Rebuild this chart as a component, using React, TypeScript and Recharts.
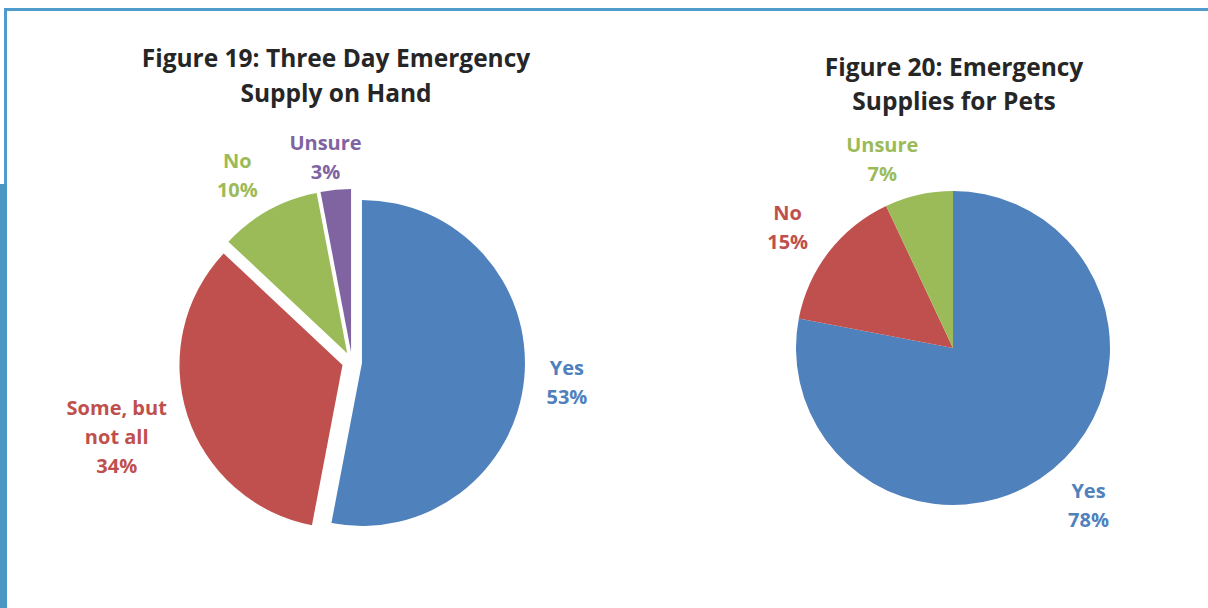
import React from 'react';
import { PieChart, Pie, Cell } from 'recharts';

// ---------- Data ----------
const fig19Title = ['Figure 19: Three Day Emergency', 'Supply on Hand'];
const fig19Categories = ['Yes', 'Some, but not all', 'No', 'Unsure'];
const fig19LabelLines = [['Yes'], ['Some, but', 'not all'], ['No'], ['Unsure']];
const fig19Values = [53, 34, 10, 3];

const fig20Title = ['Figure 20: Emergency', 'Supplies for Pets'];
const fig20Categories = ['Yes', 'No', 'Unsure'];
const fig20LabelLines = [['Yes'], ['No'], ['Unsure']];
const fig20Values = [78, 15, 7];

// ---------- Styles ----------
const fig19Colors = ['#4F81BD', '#C0504D', '#9BBB59', '#8064A2'];
const fig20Colors = ['#4F81BD', '#C0504D', '#9BBB59'];
const fig19Nudges = [[8, 0], [1, -2], [-9, 5], [-6, 12]];
const fig20Nudges = [[6, 0], [-6, 3], [-26, 11]];

const FONT = '"Open Sans", "Noto Sans", sans-serif';
const LABEL_SIZE = 20;
const LINE_GAP = 29;
const RAD = Math.PI / 180;

const fig19Data = fig19Categories.map((name, i) => ({ name, value: fig19Values[i] }));
const fig20Data = fig20Categories.map((name, i) => ({ name, value: fig20Values[i] }));

function makeLabel(lines: string[][], colors: string[], nudges: number[][], target: number | null) {
  return (props: any) => {
    const { cx, cy, midAngle, outerRadius, index, percent } = props;
    if (target !== null && index !== target) return null;
    const all = [...lines[index], `${Math.round(percent * 100)}%`];
    const dx = Math.cos(-midAngle * RAD);
    const dy = Math.sin(-midAngle * RAD);
    const w = Math.max(...all.map((l) => l.length)) * 11;
    const h = (all.length - 1) * LINE_GAP + 22;
    const ext = Math.abs(dx) * w / 2 + Math.abs(dy) * h / 2;
    const dist = outerRadius + 16 + ext;
    const x = cx + dx * dist + nudges[index][0];
    const y = cy + dy * dist + nudges[index][1];
    const top = y - ((all.length - 1) * LINE_GAP) / 2;
    return (
      <text
        key={`lbl-${index}`}
        x={x}
        y={top}
        textAnchor="middle"
        fill={colors[index]}
        fontFamily={FONT}
        fontWeight={700}
        fontSize={LABEL_SIZE}
      >
        {all.map((l, i) => (
          <tspan key={i} x={x} y={top + i * LINE_GAP} dominantBaseline="central">
            {l}
          </tspan>
        ))}
      </text>
    );
  };
}

const C19 = { x: 352, y: 362, r: 163, explode: 10 };
const C20 = { x: 953, y: 348, r: 157 };

function explodeOffsets(values: number[], d: number) {
  const total = values.reduce((a, b) => a + b, 0);
  let cum = 0;
  return values.map((v) => {
    const mid = 90 - (360 * (cum + v / 2)) / total;
    cum += v;
    return [d * Math.cos(-mid * RAD), d * Math.sin(-mid * RAD)];
  });
}

const offsets19 = explodeOffsets(fig19Values, C19.explode);

const titleStyle: React.CSSProperties = {
  position: 'absolute',
  width: 600,
  textAlign: 'center',
  fontFamily: FONT,
  fontWeight: 700,
  fontSize: 24.5,
  lineHeight: '35px',
  color: '#262626',
  whiteSpace: 'nowrap',
};

export default function App() {
  return (
    <div style={{ position: 'absolute', left: 0, top: 0, width: 1208, height: 608, background: '#fff', overflow: 'hidden' }}>
      {/* frame */}
      <div style={{ position: 'absolute', left: 4, top: 8, width: 1204, height: 3, background: '#4F9BCB' }} />
      <div style={{ position: 'absolute', left: 4, top: 8, width: 2.5, height: 176, background: '#4F9BCB' }} />
      <div style={{ position: 'absolute', left: 0, top: 184, width: 7, height: 424, background: '#4A97C4' }} />

      <div style={{ ...titleStyle, left: 336 - 300, top: 40 }}>
        {fig19Title.map((t, i) => (
          <div key={i}>{t}</div>
        ))}
      </div>
      <div style={{ ...titleStyle, left: 954 - 300, top: 50, lineHeight: '34px' }}>
        {fig20Title.map((t, i) => (
          <div key={i}>{t}</div>
        ))}
      </div>

      <div style={{ position: 'absolute', left: 0, top: 0 }}>
        <PieChart width={1208} height={608} margin={{ top: 0, right: 0, bottom: 0, left: 0 }}>
          {fig19Data.map((_, k) => (
            <Pie
              key={`p19-${k}`}
              data={fig19Data}
              dataKey="value"
              nameKey="name"
              cx={C19.x + offsets19[k][0]}
              cy={C19.y + offsets19[k][1]}
              outerRadius={C19.r}
              innerRadius={0}
              startAngle={90}
              endAngle={-270}
              stroke="none"
              isAnimationActive={false}
              labelLine={false}
              label={makeLabel(fig19LabelLines, fig19Colors, fig19Nudges, k)}
            >
              {fig19Data.map((__, i) => (
                <Cell key={i} fill={i === k ? fig19Colors[i] : 'none'} stroke="none" />
              ))}
            </Pie>
          ))}
          <Pie
            data={fig20Data}
            dataKey="value"
            nameKey="name"
            cx={C20.x}
            cy={C20.y}
            outerRadius={C20.r}
            innerRadius={0}
            startAngle={90}
            endAngle={-270}
            stroke="none"
            isAnimationActive={false}
            labelLine={false}
            label={makeLabel(fig20LabelLines, fig20Colors, fig20Nudges, null)}
          >
            {fig20Data.map((_, i) => (
              <Cell key={i} fill={fig20Colors[i]} stroke="none" />
            ))}
          </Pie>
        </PieChart>
      </div>
    </div>
  );
}
